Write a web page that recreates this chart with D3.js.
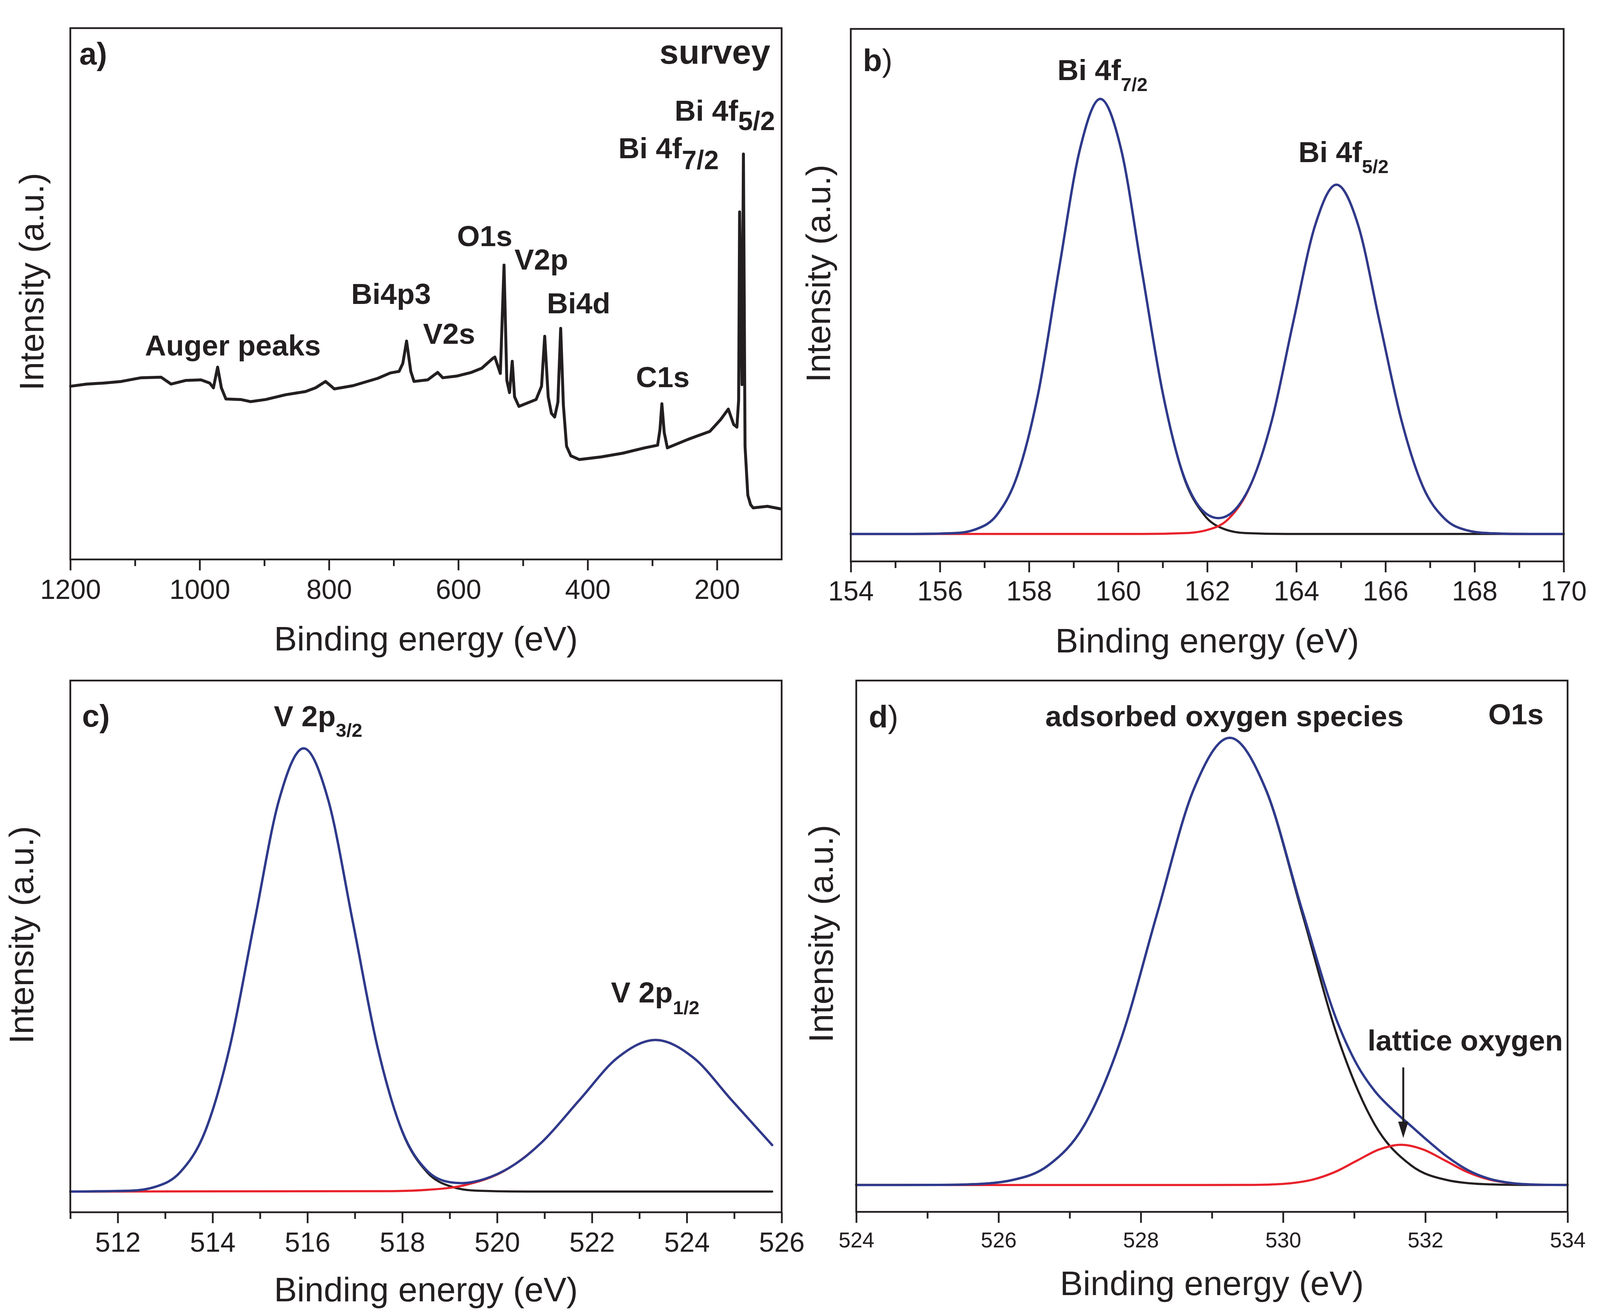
<!DOCTYPE html>
<html>
<head>
<meta charset="utf-8">
<script src="https://cdn.jsdelivr.net/npm/d3@7"></script>
<style>
  body { margin: 0; background: #fff; }
  svg { display: block; background: #fff; }
</style>
</head>
<body>
<script>
/* ===== Data ===== */

// a) survey spectrum: binding energy (eV) and intensity (a.u.)
const surveyEnergy = [1199.5, 1175.2, 1148.2, 1121.3, 1090.5, 1059.6, 1044.2, 1021.1, 998.0, 984.5,
  978.7, 972.2, 966.4, 959.4, 936.4, 921.0, 897.9, 867.0, 836.3, 820.8,
  805.3, 791.8, 762.9, 724.3, 705.1, 691.6, 685.8, 680.0, 673.5, 668.5,
  647.3, 631.9, 624.1, 602.9, 580.0, 563.6, 547.0, 543.5, 535.0, 529.3,
  525.0, 520.8, 516.6, 513.0, 506.3, 479.7, 471.3, 466.4, 461.0, 456.0,
  451.0, 446.0, 441.7, 437.5, 432.6, 426.0, 412.7, 378.9, 345.6, 311.8,
  291.8, 288.2, 285.2, 281.6, 276.7, 244.7, 211.0, 194.5, 182.5, 174.2,
  169.2, 166.5, 165.0, 161.3, 159.1, 156.6, 152.3, 148.0, 144.0, 122.0, 101.0];
const surveyCounts = [32.6, 33.0, 33.2, 33.5, 34.2, 34.3, 33.0, 33.7, 33.8, 33.2,
  32.3, 36.2, 32.3, 30.2, 30.1, 29.7, 30.1, 31.0, 31.6, 32.3,
  33.5, 32.1, 32.7, 34.1, 35.1, 35.4, 36.9, 41.1, 35.4, 33.5,
  33.8, 35.2, 34.2, 34.5, 35.2, 36.0, 37.8, 38.1, 35.0, 55.4,
  33.7, 31.4, 37.3, 30.6, 28.8, 30.1, 32.6, 42.0, 30.6, 27.5,
  26.8, 29.6, 43.5, 29.0, 21.3, 19.5, 18.8, 19.3, 20.0, 21.0,
  21.5, 24.4, 29.3, 23.9, 21.0, 22.6, 24.1, 26.3, 28.3, 25.4,
  24.9, 30.0, 65.4, 32.9, 76.3, 21.3, 12.1, 10.3, 9.7, 10.0, 9.5];

// b) Bi 4f fit: 4f7/2 component (black), 4f5/2 component (red), envelope (blue)
const bi72Energy = [154, 155.42, 156.35, 156.81, 157.28, 157.74, 158.21, 158.67, 159.14, 159.6,
  160.07, 160.53, 161.0, 161.46, 161.93, 162.39, 162.86, 163.79, 170];
const bi72Counts = [0, 0, 0.2, 1.1, 4.4, 13.5, 32.5, 60.7, 88.3, 100,
  88.3, 60.7, 32.5, 13.5, 4.4, 1.1, 0.2, 0, 0];
const bi52Energy = [154, 160.54, 161.51, 161.99, 162.48, 162.96, 163.45, 163.93, 164.42, 164.9,
  165.39, 165.87, 166.36, 166.84, 167.33, 167.81, 168.3, 169.27, 170];
const bi52Counts = [0, 0, 0.2, 0.9, 3.5, 10.9, 26.1, 48.7, 70.9, 80.3,
  70.9, 48.7, 26.1, 10.9, 3.5, 0.9, 0.2, 0, 0];
const biSumEnergy = [154, 155.42, 156.35, 156.81, 157.28, 157.74, 158.21, 158.67, 159.14, 159.6,
  160.07, 160.53, 161.0, 161.46, 161.75, 162.0, 162.25, 162.5, 162.75, 163.0,
  163.45, 163.93, 164.42, 164.9, 165.39, 165.87, 166.36, 166.84, 167.33, 167.81,
  168.3, 169.27, 170];
const biSumCounts = [0, 0, 0.2, 1.1, 4.4, 13.5, 32.5, 60.7, 88.3, 100,
  88.3, 60.7, 32.5, 13.7, 7.3, 4.5, 3.65, 4.5, 7.2, 11.9,
  26.1, 48.7, 70.9, 80.3, 70.9, 48.7, 26.1, 10.9, 3.5, 0.9,
  0.2, 0, 0];

// c) V 2p fit
const v32Energy = [511, 512.28, 512.8, 513.32, 513.84, 514.36, 514.88, 515.4, 515.92, 516.44,
  516.96, 517.48, 518.0, 518.52, 519.04, 519.56, 520.6, 525.8];
const v32Counts = [0, 0.2, 1.1, 4.4, 13.5, 32.5, 60.7, 88.3, 100, 88.3,
  60.7, 32.5, 13.5, 4.4, 1.1, 0.2, 0, 0];
const v12Energy = [511, 517.74, 518.54, 519.34, 520.14, 520.94, 521.74, 522.54, 523.34, 524.14,
  524.94, 525.8];
const v12Counts = [0, 0.1, 0.4, 1.5, 4.6, 11.1, 20.7, 30.2, 34.2, 30.2,
  20.7, 10.5];
const vSumEnergy = [511, 512.28, 512.8, 513.32, 513.84, 514.36, 514.88, 515.4, 515.92, 516.44,
  516.96, 517.48, 518.0, 518.5, 519.0, 519.25, 519.5, 520.0, 520.5, 520.94,
  521.74, 522.54, 523.34, 524.14, 524.94, 525.8];
const vSumCounts = [0, 0.2, 1.1, 4.4, 13.5, 32.5, 60.7, 88.3, 100, 88.3,
  60.7, 32.5, 13.6, 4.96, 2.11, 1.9, 2.19, 3.92, 7.08, 11.1,
  20.7, 30.2, 34.2, 30.2, 20.7, 10.5];

// d) O1s fit: adsorbed oxygen (black), lattice oxygen (red), envelope (blue)
const oAdsEnergy = [524, 525.17, 525.68, 526.19, 526.7, 527.21, 527.72, 528.23, 528.74, 529.25,
  529.76, 530.27, 530.78, 531.29, 531.8, 532.31, 532.82, 533.33, 534];
const oAdsCounts = [0, 0.03, 0.2, 1.1, 4.4, 13.5, 32.5, 60.7, 88.3, 100,
  88.3, 60.7, 32.5, 13.5, 4.4, 1.1, 0.2, 0.03, 0];
const oLatEnergy = [524, 528.9, 529.49, 529.8, 530.11, 530.42, 530.73, 531.04, 531.35, 531.66,
  531.97, 532.28, 532.59, 532.9, 533.21, 533.52, 533.83, 534];
const oLatCounts = [0, 0, 0.02, 0.1, 0.4, 1.22, 2.92, 5.46, 7.94, 9.0,
  7.94, 5.46, 2.92, 1.22, 0.4, 0.1, 0.02, 0];
const oSumEnergy = [524, 525.17, 525.68, 526.19, 526.7, 527.21, 527.72, 528.23, 528.74, 529.25,
  529.76, 530.27, 530.78, 531.04, 531.29, 531.55, 531.8, 532.05, 532.31, 532.59,
  532.9, 533.21, 533.52, 533.83, 534];
const oSumCounts = [0, 0.03, 0.2, 1.1, 4.4, 13.5, 32.5, 60.7, 88.3, 100,
  88.4, 61.4, 35.8, 26.9, 21.0, 16.7, 13.2, 9.7, 6.3, 3.4,
  1.4, 0.45, 0.11, 0.02, 0];

// axis ranges and ticks
const aRange = [1200, 100], aMajor = [1200, 1000, 800, 600, 400, 200], aMinor = [1100, 900, 700, 500, 300];
const bRange = [154, 170], bMajor = [154, 156, 158, 160, 162, 164, 166, 168, 170], bMinor = [155, 157, 159, 161, 163, 165, 167, 169];
const cRange = [511, 526], cMajor = [512, 514, 516, 518, 520, 522, 524, 526], cMinor = [511, 513, 515, 517, 519, 521, 523, 525];
const dRange = [524, 534], dMajor = [524, 526, 528, 530, 532, 534], dMinor = [525, 527, 529, 531, 533];

// lattice-oxygen arrow (eV, from / to intensity)
const arrowEnergy = 531.69, arrowFrom = 26.3, arrowTo = 10.5;

/* ===== Drawing ===== */

const INK = '#231f20';
const BLUE = '#2e3a8c';
const RED = '#e8222b';
const SANS = '"Liberation Sans", Arial, Helvetica, sans-serif';
const NARROW = '"Liberation Sans Narrow", "Liberation Sans", Arial, sans-serif';

const svg = d3.select('body').append('svg')
  .attr('width', 4108)
  .attr('height', 3366)
  .attr('viewBox', '0 0 4108 3366');

function makePanel(box, xDomain, yDomain, major, minor, tickFont, labelDrop) {
  const x = d3.scaleLinear().domain(xDomain).range([box.left, box.right]);
  const y = d3.scaleLinear().domain(yDomain).range([box.bottom, box.top]);
  const g = svg.append('g');

  // minor ticks
  const mi = g.append('g')
    .attr('transform', `translate(0,${box.bottom})`)
    .call(d3.axisBottom(x).tickValues(minor).tickSize(17).tickFormat(''));
  mi.select('.domain').remove();
  mi.selectAll('line').attr('stroke', INK).attr('stroke-width', 4.5);

  // major ticks + labels
  const ma = g.append('g')
    .attr('transform', `translate(0,${box.bottom})`)
    .call(d3.axisBottom(x).tickValues(major).tickSize(28).tickFormat(d3.format('d')));
  ma.select('.domain').remove();
  ma.selectAll('line').attr('stroke', INK).attr('stroke-width', 4.5);
  ma.selectAll('text')
    .attr('y', labelDrop).attr('dy', null)
    .attr('fill', INK)
    .style('font-family', SANS)
    .style('font-size', tickFont + 'px');

  return { g, x, y };
}

function drawFrame(g, box) {
  g.append('rect')
    .attr('x', box.left).attr('y', box.top)
    .attr('width', box.right - box.left).attr('height', box.bottom - box.top)
    .attr('fill', 'none').attr('stroke', INK).attr('stroke-width', 4.5);
}

function drawCurve(p, xs, ys, color, width, curve) {
  const line = d3.line()
    .x(d => p.x(d[0]))
    .y(d => p.y(d[1]))
    .curve(curve || d3.curveMonotoneX);
  p.g.append('path')
    .datum(d3.zip(xs, ys))
    .attr('d', line)
    .attr('fill', 'none')
    .attr('stroke', color)
    .attr('stroke-width', width)
    .attr('stroke-linejoin', 'round')
    .attr('stroke-linecap', 'round');
}

function axisTitles(g, box, titleBase, yLabelX, yLabelY) {
  g.append('text')
    .attr('x', (box.left + box.right) / 2).attr('y', titleBase)
    .attr('text-anchor', 'middle')
    .style('font-family', SANS).style('font-size', '88px').attr('fill', INK)
    .text('Binding energy (eV)');
  g.append('text')
    .attr('transform', `translate(${yLabelX},${yLabelY}) rotate(-90)`)
    .attr('text-anchor', 'middle')
    .style('font-family', SANS).style('font-size', '88px').attr('fill', INK)
    .text('Intensity (a.u.)');
}

// bold label with optional subscript
function label(g, x, y, main, sub, subFont, subSize, subDy, anchor, size) {
  const t = g.append('text')
    .attr('x', x).attr('y', y)
    .attr('text-anchor', anchor || 'start')
    .style('font-family', SANS).style('font-size', (size || 75) + 'px').style('font-weight', 'bold')
    .attr('fill', INK);
  t.append('tspan').text(main);
  if (sub) {
    t.append('tspan')
      .attr('dy', subDy)
      .style('font-family', subFont)
      .style('font-size', subSize + 'px')
      .text(sub);
  }
  return t;
}

// panel letter, optional thin parenthesis
function panelTag(g, x, y, letter, thinParen) {
  const t = g.append('text')
    .attr('x', x).attr('y', y)
    .style('font-family', SANS).style('font-size', '80px').attr('fill', INK);
  t.append('tspan').style('font-weight', 'bold').text(letter);
  t.append('tspan').style('font-weight', thinParen ? 'normal' : 'bold').text(')');
}

/* ---- a) survey ---- */
const boxA = { left: 180, right: 2001, top: 72, bottom: 1432 };
const pA = makePanel(boxA, aRange, [0, 100], aMajor, aMinor, 70, 101);
drawCurve(pA, surveyEnergy, surveyCounts, INK, 7.5, d3.curveLinear);
drawFrame(pA.g, boxA);
axisTitles(pA.g, boxA, 1665, 111, 721);
panelTag(pA.g, 203, 165, 'a', false);
label(pA.g, 1972, 163, 'survey', null, null, 0, 0, 'end', 88);
label(pA.g, 371, 910, 'Auger peaks');
label(pA.g, 899, 778, 'Bi4p3');
label(pA.g, 1083, 880, 'V2s');
label(pA.g, 1170, 630, 'O1s');
label(pA.g, 1317, 690, 'V2p');
label(pA.g, 1400, 802, 'Bi4d');
label(pA.g, 1628, 991, 'C1s');
label(pA.g, 1583, 405, 'Bi 4f', '7/2', SANS, 68, 28);
label(pA.g, 1727, 309, 'Bi 4f', '5/2', SANS, 68, 24);

/* ---- b) Bi 4f ---- */
const boxB = { left: 2178, right: 4003, top: 74, bottom: 1437 };
const pB = makePanel(boxB, bRange, [-6.3, 116.1], bMajor, bMinor, 70, 100);
drawCurve(pB, bi72Energy, bi72Counts, INK, 5.5);
drawCurve(pB, bi52Energy, bi52Counts, RED, 5.5);
drawCurve(pB, biSumEnergy, biSumCounts, BLUE, 6);
drawFrame(pB.g, boxB);
axisTitles(pB.g, boxB, 1670, 2125, 700);
panelTag(pB.g, 2209, 182, 'b', true);
label(pB.g, 2707, 205, 'Bi 4f', '7/2', NARROW, 49, 28);
label(pB.g, 3324, 415, 'Bi 4f', '5/2', NARROW, 49, 28);

/* ---- c) V 2p ---- */
const boxC = { left: 180, right: 2001, top: 1742, bottom: 3103 };
const pC = makePanel(boxC, cRange, [-4.67, 115.3], cMajor, cMinor, 70, 101);
drawCurve(pC, v32Energy, v32Counts, INK, 5.5);
drawCurve(pC, v12Energy, v12Counts, RED, 5.5);
drawCurve(pC, vSumEnergy, vSumCounts, BLUE, 6);
drawFrame(pC.g, boxC);
axisTitles(pC.g, boxC, 3331, 85, 2393);
panelTag(pC.g, 210, 1860, 'c', false);
label(pC.g, 701, 1859, 'V 2p', '3/2', NARROW, 49, 27);
label(pC.g, 1564, 2566, 'V 2p', '1/2', NARROW, 49, 30);

/* ---- d) O1s ---- */
const boxD = { left: 2192, right: 4013, top: 1742, bottom: 3102 };
const pD = makePanel(boxD, dRange, [-6.0, 112.8], dMajor, dMinor, 55, 91);
drawCurve(pD, oAdsEnergy, oAdsCounts, INK, 5.5);
drawCurve(pD, oLatEnergy, oLatCounts, RED, 5.5);
drawCurve(pD, oSumEnergy, oSumCounts, BLUE, 6);
drawFrame(pD.g, boxD);
axisTitles(pD.g, boxD, 3315, 2132, 2390);
panelTag(pD.g, 2224, 1862, 'd', true);
label(pD.g, 2676, 1859, 'adsorbed oxygen species');
label(pD.g, 3810, 1854, 'O1s');
label(pD.g, 3501, 2689, 'lattice oxygen');

// arrow to the lattice oxygen peak
const ax = pD.x(arrowEnergy), ay0 = pD.y(arrowFrom), ay1 = pD.y(arrowTo);
pD.g.append('line')
  .attr('x1', ax).attr('x2', ax)
  .attr('y1', ay0).attr('y2', ay1 - 30)
  .attr('stroke', INK).attr('stroke-width', 5);
pD.g.append('path')
  .attr('d', `M${ax - 13},${ay1 - 42} L${ax + 13},${ay1 - 42} L${ax},${ay1} Z`)
  .attr('fill', INK);
</script>
</body>
</html>
